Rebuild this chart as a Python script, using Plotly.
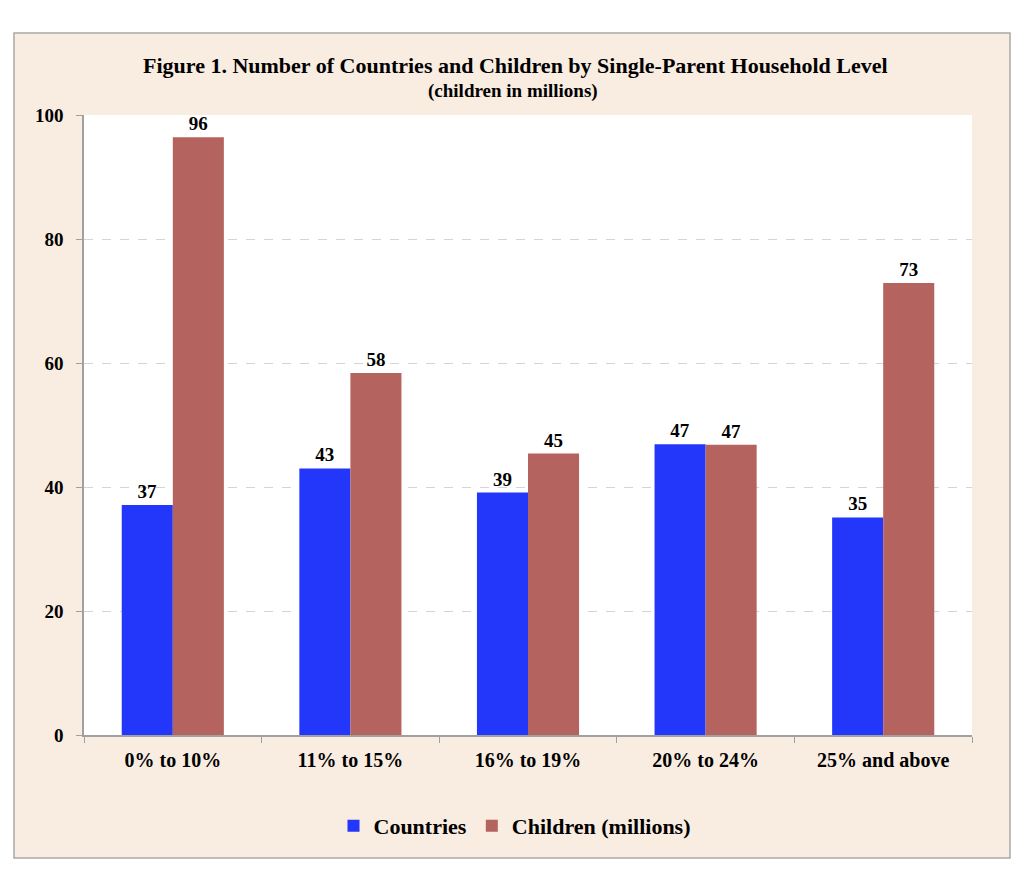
import plotly.graph_objects as go

categories = ["0% to 10%", "11% to 15%", "16% to 19%", "20% to 24%", "25% and above"]
countries = [37.1, 43.0, 39.1, 46.9, 35.1]
children = [96.4, 58.4, 45.4, 46.8, 72.9]
y_ticks = [0, 20, 40, 60, 80, 100]

FONT = "Liberation Serif"
OFF = 8  # page body margin
W, H = 1024 - OFF, 895 - OFF
L, T = 84 - OFF, 115 - OFF
pw, ph = 888, 620
R, B = W - L - pw, H - T - ph

def px_x(px):
    return (px - OFF - L) / pw

def px_y(py):
    return (T + ph - (py - OFF)) / ph

fig = go.Figure()
fig.add_trace(go.Bar(
    name="<b>Countries</b>", x=categories, y=countries,
    marker=dict(color="#2337FB", line=dict(width=0)),
    text=countries, texttemplate="<b>%{y:.0f}</b>", textposition="outside",
    textfont=dict(family=FONT, size=19, color="black"), cliponaxis=False,
))
fig.add_trace(go.Bar(
    name="<b>Children (millions)</b>", x=categories, y=children,
    marker=dict(color="#B5635E", line=dict(width=0)),
    text=children, texttemplate="<b>%{y:.0f}</b>", textposition="outside",
    textfont=dict(family=FONT, size=19, color="black"), cliponaxis=False,
))

fig.update_layout(
    width=W, height=H,
    margin=dict(l=L, r=R, t=T, b=B),
    paper_bgcolor="white",
    plot_bgcolor="rgba(0,0,0,0)",
    barmode="group", bargap=0.425, bargroupgap=0,
    font=dict(family=FONT, color="black"),
    showlegend=True,
    legend=dict(orientation="h", x=px_x(515), xanchor="center", y=px_y(826), yanchor="middle",
                font=dict(family=FONT, size=22, color="black"), bgcolor="rgba(0,0,0,0)",
                itemwidth=30, traceorder="normal"),
    shapes=[
        dict(type="rect", xref="paper", yref="paper", layer="below",
             x0=px_x(14), x1=px_x(1010), y0=px_y(858), y1=px_y(33),
             fillcolor="#F9ECE1", line=dict(color="#A8A8A8", width=1.5)),
        dict(type="rect", xref="paper", yref="paper", layer="below",
             x0=0, x1=1, y0=0, y1=1, fillcolor="white", line=dict(width=0)),
    ],
    annotations=[
        dict(text="<b>Figure 1. Number of Countries and Children by Single-Parent Household Level</b>",
             xref="paper", yref="paper", x=px_x(515), y=px_y(66), xanchor="center", yanchor="middle",
             showarrow=False, font=dict(family=FONT, size=22, color="black")),
        dict(text="<b>(children in millions)</b>",
             xref="paper", yref="paper", x=px_x(513), y=px_y(91), xanchor="center", yanchor="middle",
             showarrow=False, font=dict(family=FONT, size=19, color="black")),
    ],
)

fig.update_yaxes(
    range=[0, 100], tickvals=y_ticks, ticktext=[f"<b>{v}</b>" for v in y_ticks],
    tickfont=dict(family=FONT, size=19, color="black"),
    showgrid=True, gridcolor="#D4D4D4", griddash="dash", gridwidth=1,
    showline=True, linecolor="#A0A0A0", linewidth=1.5,
    ticks="outside", ticklen=6, tickcolor="#A0A0A0", ticklabelstandoff=9,
    zeroline=False,
)
fig.update_xaxes(
    tickvals=categories, ticktext=[f"<b>{c}</b>" for c in categories],
    tickfont=dict(family=FONT, size=20, color="black"),
    showline=True, linecolor="#A0A0A0", linewidth=1.5,
    ticks="outside", ticklen=6, tickcolor="#A0A0A0", tickson="boundaries",
    showgrid=False, ticklabelstandoff=6,
)

fig.write_html("out.html")
